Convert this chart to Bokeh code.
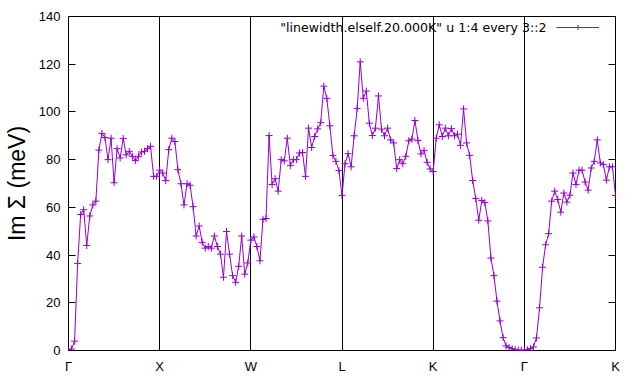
import numpy as np
from bokeh.plotting import figure
from bokeh.models import (FixedTicker, LinearAxis, Range1d, Legend, LegendItem, Label)
from bokeh.core.properties import value
from bokeh.embed import file_html
from bokeh.resources import INLINE

# high-symmetry path labels (uniformly spaced)
path_labels = ["Γ", "X", "W", "L", "K", "Γ", "K"]
y_ticks = [0, 20, 40, 60, 80, 100, 120, 140]

# Im Sigma (meV) along each segment (30 steps per segment)
seg_GX = [0.2, 0.6, 3.9, 36.5, 57, 59, 44, 56.4, 61, 62.6, 84, 91, 89.3, 80, 89, 70.3,
          84.6, 80.7, 88.9, 82, 83.5, 81.4, 79.6, 81.4, 83.2, 83.5, 84.6, 85.6, 73, 73, 75.6]
seg_XW = [74.4, 71.25, 84.2, 89, 87.6, 75.8, 69.9, 61, 69.9, 69.3, 60.3, 48, 52.2, 45.3, 42.9,
          43.6, 42.9, 48, 43.6, 40.4, 30.7, 49.9, 40.4, 31.4, 28.6, 35.3, 48, 32, 36.7, 46.25]
seg_WL = [47.6, 43.6, 37.6, 55, 55.3, 90.1, 69.6, 72, 66.8, 80, 79.5, 89, 77.5, 80, 80,
          82.8, 83, 73, 93.2, 85.1, 89.7, 92.9, 95.5, 110.8, 105.7, 94.2, 81.7, 79.3, 75.4, 65]
seg_LK = [78.3, 82.5, 77, 90, 101.5, 121, 105.7, 108.75, 95.3, 90.1, 93.2, 106.7, 92.8, 90, 93.2,
          88.3, 87, 76.25, 80, 78.3, 81.4, 87.9, 88.6, 96.4, 88, 82.4, 83.9, 78.9, 76.1, 75]
seg_KG = [89, 94.6, 89.7, 93.2, 90, 93, 90, 90.7, 86, 101.25, 87, 81.8, 71.25, 63.75, 54.6,
          62.9, 62, 54.3, 38.75, 31.4, 20.7, 12.4, 5.4, 1.9, 1.3, 0.7, 0.3, 0.2, 0.1, 0.1]
seg_GK = [0.3, 0.8, 1.5, 5.3, 17.9, 34.9, 44.3, 49, 62.6, 66.8, 63.3, 58, 66, 62.2, 65.1,
          74.4, 69.6, 75.6, 75.6, 70.6, 67.2, 76.5, 79.3, 88.3, 78.6, 77.9, 71.4, 77, 77, 65]

im_sigma = seg_GX + seg_XW + seg_WL + seg_LK + seg_KG + seg_GK
steps_per_segment = 30
kpath = np.arange(len(im_sigma)) / steps_per_segment

COLOR = "#9400d3"
FONT = "Liberation Sans"

p = figure(width=632, height=376, output_backend="svg", toolbar_location=None,
           x_range=Range1d(0, 6), y_range=Range1d(0, 140),
           min_border_left=68, min_border_right=17, min_border_top=16, min_border_bottom=24)
p.outline_line_color = "black"
p.outline_line_width = 1
p.background_fill_color = "white"
p.border_fill_color = "white"

line = p.line(kpath, im_sigma, line_color=COLOR, line_width=1)
pts = p.scatter(kpath, im_sigma, marker="cross", size=7, line_color=COLOR, line_width=1)

# x axis
xa = p.xaxis[0]
xa.ticker = FixedTicker(ticks=list(range(len(path_labels))))
xa.major_label_overrides = {i: lab for i, lab in enumerate(path_labels)}
xa.major_tick_in = 0
xa.major_tick_out = 0
xa.minor_tick_line_color = None
xa.axis_line_color = None
xa.major_label_standoff = 8
xa.major_label_text_font = FONT
xa.major_label_text_font_size = "13px"
xa.major_label_text_color = "black"

# y axis
ya = p.yaxis[0]
ya.ticker = FixedTicker(ticks=y_ticks)
ya.major_tick_in = 7
ya.major_tick_out = 0
ya.major_tick_line_color = "black"
ya.minor_tick_line_color = None
ya.axis_line_color = None
ya.major_label_standoff = 8
ya.major_label_text_font = FONT
ya.major_label_text_font_size = "13px"
ya.major_label_text_color = "black"
ya.axis_label = "Im Σ (meV)"
ya.axis_label_text_font = FONT
ya.axis_label_text_font_size = "23px"
ya.axis_label_text_font_style = "normal"
ya.axis_label_text_color = "black"
ya.axis_label_standoff = 6

# mirrored right ticks (no labels)
ra = LinearAxis(ticker=FixedTicker(ticks=y_ticks), major_tick_in=7, major_tick_out=0,
                major_label_overrides={t: "" for t in y_ticks},
                minor_tick_line_color=None, axis_line_color=None, major_label_standoff=0)
p.add_layout(ra, "right")

# grid: vertical lines at high-symmetry points only
p.xgrid.ticker = FixedTicker(ticks=list(range(len(path_labels))))
p.xgrid.grid_line_color = "black"
p.xgrid.grid_line_alpha = 1
p.xgrid.grid_line_width = 1
p.ygrid.grid_line_color = None

# legend (gnuplot style: text left, sample right)
leg = Legend(items=[LegendItem(label=value(""), renderers=[line, pts])],
             location=(488, 317), glyph_width=43, glyph_height=12,
             label_width=0, label_height=12, label_standoff=0,
             label_text_font_size="13px", padding=0, margin=0, spacing=0,
             border_line_color=None, background_fill_alpha=0)
p.add_layout(leg)
p.add_layout(Label(x=478, y=323, x_units="screen", y_units="screen",
                   text='"linewidth.elself.20.000K" u 1:4 every 3::2',
                   text_align="right", text_baseline="middle",
                   text_font="DejaVu Sans", text_font_size="12.6px", text_color="black"))

open("out.html", "w").write(file_html(p, INLINE))
